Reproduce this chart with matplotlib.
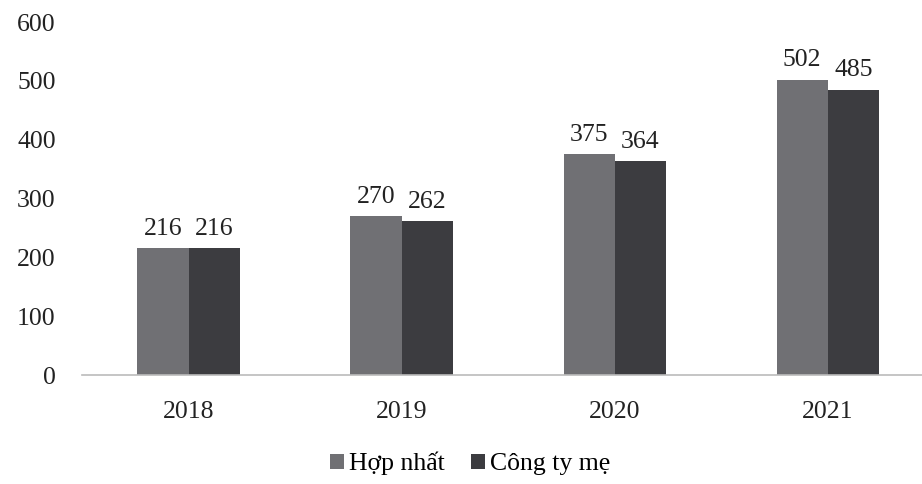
import matplotlib
matplotlib.use('Agg')
import matplotlib.pyplot as plt
import numpy as np

# --- Data ---
years = ['2018', '2019', '2020', '2021']
hop_nhat = [216, 270, 375, 502]
cong_ty_me = [216, 262, 364, 485]

plt.rcParams['font.family'] = ['Liberation Serif', 'DejaVu Serif']

fig = plt.figure(figsize=(9.22, 4.84), dpi=100)
ax = fig.add_axes([0.089, 0.225, 0.915, 0.7295])

x = np.arange(len(years))
w = 0.24
b1 = ax.bar(x - w / 2, hop_nhat, w, color='#707074', label='Hợp nhất')
b2 = ax.bar(x + w / 2, cong_ty_me, w, color='#3c3c40', label='Công ty mẹ')

for bars in (b1, b2):
    for rect in bars:
        h = rect.get_height()
        ax.text(rect.get_x() + rect.get_width() / 2, h + 14, f'{h:.0f}',
                ha='center', va='bottom', fontsize=18.5, color='#222222')

ax.set_ylim(0, 600)
ax.set_xlim(-0.5, 3.46)
ax.set_yticks(range(0, 601, 100))
ax.set_xticks(x)
ax.set_xticklabels(years)
ax.tick_params(axis='both', length=0, labelsize=18.5, colors='#222222')
ax.tick_params(axis='y', pad=19)
ax.tick_params(axis='x', pad=19)

for s in ['top', 'right', 'left']:
    ax.spines[s].set_visible(False)
ax.spines['bottom'].set_color('#bbbbbb')
ax.spines['bottom'].set_linewidth(1.2)

fig.legend(loc='lower center', bbox_to_anchor=(0.51, -0.03), ncol=2,
           frameon=False, fontsize=18.5, handlelength=0.55, handleheight=0.55,
           handletextpad=0.2, columnspacing=1.0)

fig.savefig('out.png', dpi=100)
